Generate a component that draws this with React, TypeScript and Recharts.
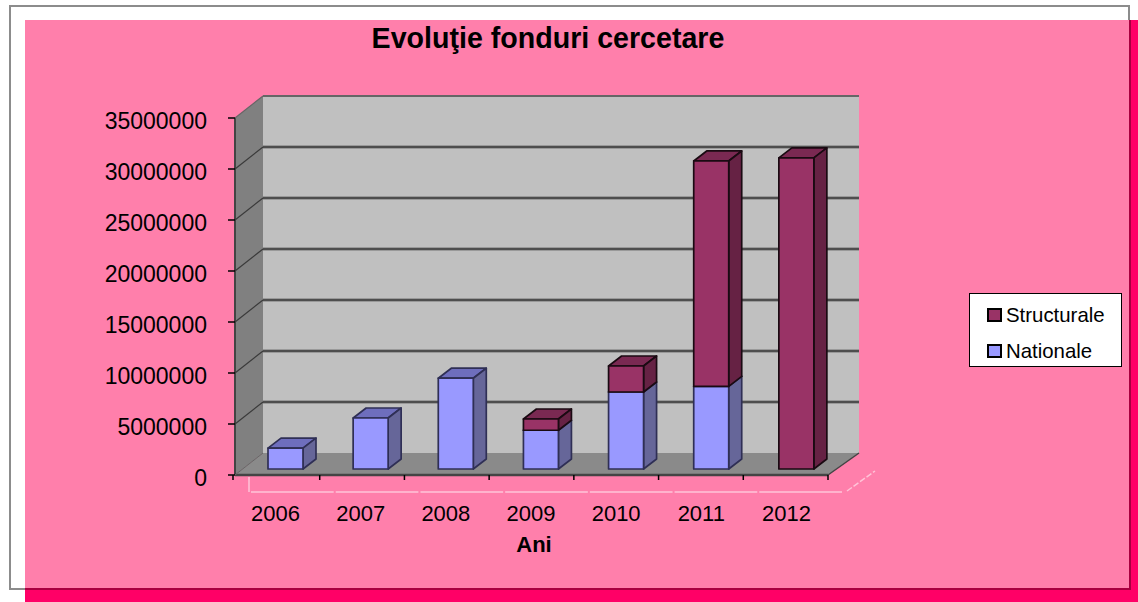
import { BarChart, Bar, XAxis, YAxis, CartesianGrid, Legend } from "recharts"

const years = ["2006", "2007", "2008", "2009", "2010", "2011", "2012"]
const nationale = [2050000, 5000000, 8900000, 3800000, 7550000, 8100000, 0]
const structurale = [0, 0, 0, 1100000, 2550000, 22100000, 30500000]
const yTicks = [0, 5000000, 10000000, 15000000, 20000000, 25000000, 30000000, 35000000]

const data = years.map((year, i) => ({ year, Nationale: nationale[i], Structurale: structurale[i] }))

const W = 1138
const H = 602
// front plane of the 3d box
const LEFT = 235
const RIGHT = 828
const TOP = 118
const BOTTOM = 475
// bars spread a little wider than the floor in the original
const PLOT_RIGHT = 831
const TICK_STEP = (RIGHT - LEFT) / years.length
// wall offset, bar offset and bar depth
const WALL_DX = 28
const WALL_DY = -22
const BAR_DX = 8
const BAR_DY = -6
const DEPTH_DX = 13
const DEPTH_DY = -10
const FONT = "'Liberation Sans', Arial, sans-serif"

// sits under the chart, the recharts grid goes on top of it
const Backdrop = () => (
  <svg width={W} height={H} style={{ position: "absolute", left: 0, top: 0 }}>
    <polygon points={`${LEFT},${TOP} ${LEFT + WALL_DX},${TOP + WALL_DY} ${LEFT + WALL_DX},${BOTTOM + WALL_DY} ${LEFT},${BOTTOM}`} fill="#808080" />
    <rect x={LEFT + WALL_DX} y={TOP + WALL_DY} width={RIGHT + 31 - LEFT - WALL_DX} height={BOTTOM - TOP} fill="#c0c0c0" />
    <polygon points={`${LEFT},${BOTTOM} ${RIGHT},${BOTTOM} ${RIGHT + 31},${BOTTOM + WALL_DY} ${LEFT + WALL_DX},${BOTTOM + WALL_DY}`} fill="#8a8a8a" />
    <line x1={LEFT} y1={BOTTOM} x2={RIGHT} y2={BOTTOM} stroke="#444" strokeWidth={2.5} />
    <line x1={RIGHT} y1={BOTTOM} x2={RIGHT + 31} y2={BOTTOM + WALL_DY} stroke="#444" strokeWidth={1.5} />
    <line x1={LEFT} y1={TOP} x2={LEFT} y2={BOTTOM} stroke="#444" strokeWidth={2} />
    <line x1={LEFT} y1={BOTTOM} x2={LEFT + WALL_DX} y2={BOTTOM + WALL_DY} stroke="#666" strokeWidth={1} />
    {/* pale bracket under the axis */}
    <line x1={249} y1={477} x2={249} y2={492} stroke="#ffc4d8" strokeWidth={1.5} />
    {years.map((y, i) => (
      <line key={y} x1={251 + i * TICK_STEP} y1={492} x2={250 + (i + 1) * TICK_STEP - 1} y2={492} stroke="#ffc4d8" strokeWidth={1.5} />
    ))}
    <line x1={847} y1={491} x2={875} y2={471} stroke="#ffc4d8" strokeWidth={1.5} strokeDasharray="6 2" />
    <text x={548} y={48} textAnchor="middle" fontFamily={FONT} fontSize={28.6} fontWeight="bold" fill="#000">
      Evoluţie fonduri cercetare
    </text>
  </svg>
)

const GridLine = (props: any) => {
  const { x1, y1 } = props
  if (Math.abs(y1 - BOTTOM) < 1) return <g />
  const isTop = Math.abs(y1 - TOP) < 1
  const backY = y1 + WALL_DY
  const color = isTop ? "#666" : "#3a3a3a"
  return (
    <g>
      {!isTop && <line x1={x1 + WALL_DX} y1={backY} x2={RIGHT + 31} y2={backY} stroke="#8c8c8c" strokeWidth={3.5} />}
      <line x1={x1 + WALL_DX} y1={backY} x2={RIGHT + 31} y2={backY} stroke={color} strokeWidth={isTop ? 2 : 1.5} />
      <line x1={x1} y1={y1} x2={x1 + WALL_DX} y2={backY} stroke={color} strokeWidth={1.2} />
    </g>
  )
}

const makeBox = (top: string, side: string, edge: string) => (props: any) => {
  const { x, y, width, height } = props
  if (!height || height <= 0) return <g />
  const fx = x + BAR_DX
  const fy = y + BAR_DY
  const dx = DEPTH_DX
  const dy = DEPTH_DY
  return (
    <g stroke={edge} strokeWidth={1.7} strokeLinejoin="round">
      <polygon points={`${fx},${fy} ${fx + dx},${fy + dy} ${fx + width + dx},${fy + dy} ${fx + width},${fy}`} fill={top} />
      <polygon points={`${fx + width},${fy} ${fx + width + dx},${fy + dy} ${fx + width + dx},${fy + height + dy} ${fx + width},${fy + height}`} fill={side} />
      <rect x={fx} y={fy} width={width} height={height} fill={props.fill} />
    </g>
  )
}

const YearTick = (props: any) => {
  const { x, y, payload } = props
  const right = LEFT + (payload.index + 1) * TICK_STEP
  return (
    <g>
      {payload.index === 0 && <line x1={LEFT - 2} y1={BOTTOM} x2={LEFT - 2} y2={BOTTOM + 5} stroke="#000" strokeWidth={1.5} />}
      <line x1={right} y1={BOTTOM} x2={right} y2={BOTTOM + 5} stroke="#000" strokeWidth={1.5} />
      <text x={x - 2} y={y + 38} textAnchor="middle" fontFamily={FONT} fontSize={22} fill="#000">
        {payload.value}
      </text>
    </g>
  )
}

const LegendBox = ({ payload }: any) => {
  const rows = [...(payload ?? [])].reverse()
  return (
    <div style={{ width: 153, height: 74, boxSizing: "border-box", background: "#fff", border: "1.5px solid #000", paddingTop: 6, fontFamily: FONT, fontSize: 20.4, color: "#000" }}>
      {rows.map((r: any) => (
        <div key={r.value} style={{ display: "flex", alignItems: "center", height: 30, marginBottom: 6, paddingLeft: 17 }}>
          <span style={{ width: 11, height: 10, background: r.color, border: "2px solid #000", marginRight: 4, flex: "none" }} />
          {r.value}
        </div>
      ))}
    </div>
  )
}

export default function App() {
  return (
    <div style={{ position: "fixed", left: 0, top: 0, width: W, height: H, background: "#fff", overflow: "hidden" }}>
      {/* white frame, pink panel and its red shadow */}
      <div style={{ position: "absolute", left: 9, top: 5, width: 1121, height: 585, boxSizing: "border-box", border: "2px solid #8c8c8c", background: "#fff" }} />
      <div style={{ position: "absolute", left: 25, top: 20, width: 1113, height: 582, background: "#ff0066" }} />
      <div style={{ position: "absolute", left: 25, top: 20, width: 1104, height: 568, background: "#ff7fab", borderRight: "2px solid #a8003f", borderBottom: "2px solid #a8003f" }} />
      <Backdrop />
      <div style={{ position: "absolute", left: 0, top: 0 }}>
        <BarChart
          width={W}
          height={H}
          data={data}
          barSize={35}
          barGap={0}
          margin={{ top: TOP, right: W - PLOT_RIGHT, left: LEFT - 135, bottom: H - BOTTOM - 60 }}
        >
          <CartesianGrid horizontal={(p: any) => <GridLine key={p.key} {...p} />} vertical={false} />
          <XAxis
            dataKey="year"
            height={60}
            interval={0}
            axisLine={false}
            tickLine={false}
            tick={YearTick}
            label={{ value: "Ani", position: "insideBottom", dx: 1, dy: 22, style: { fontFamily: FONT, fontSize: 22, fontWeight: "bold", fill: "#000" } }}
          />
          <YAxis
            width={135}
            domain={[0, 35000000]}
            ticks={yTicks}
            interval={0}
            axisLine={false}
            tickSize={7}
            tickMargin={21}
            tickLine={{ stroke: "#000", strokeWidth: 1.5 }}
            tick={{ fontFamily: FONT, fontSize: 23, fill: "#000", dy: 3 }}
          />
          <Legend
            layout="vertical"
            align="center"
            verticalAlign="middle"
            content={LegendBox}
            wrapperStyle={{ position: "absolute", left: 969, top: 293, width: 153, height: 74 }}
          />
          <Bar dataKey="Nationale" stackId="a" fill="#9999ff" isAnimationActive={false} shape={makeBox("#6e6ebd", "#666699", "#2f2f55")} />
          <Bar dataKey="Structurale" stackId="a" fill="#993366" isAnimationActive={false} shape={makeBox("#7a2952", "#662244", "#1a0a12")} />
        </BarChart>
      </div>
    </div>
  )
}
